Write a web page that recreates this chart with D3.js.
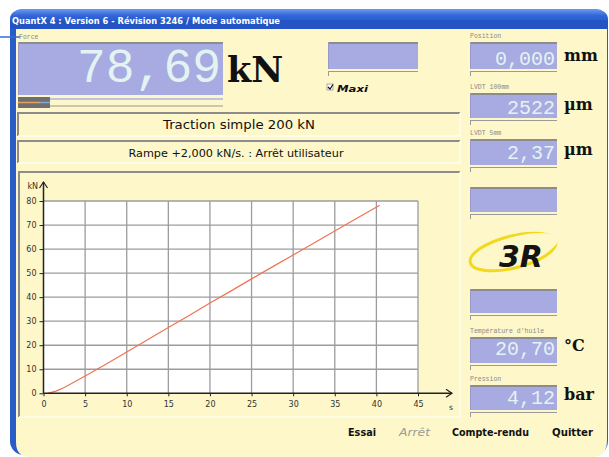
<!DOCTYPE html>
<html><head><meta charset="utf-8">
<script src="https://cdn.jsdelivr.net/npm/d3@7/dist/d3.min.js"></script>
<style>html,body{margin:0;padding:0;background:#fff;}svg{display:block;}</style>
</head><body>
<script>
// ---- data ----
const timeS  = [0.5, 1.5, 2.5, 5, 7.5, 10, 12.5, 15, 17.5, 20, 22.5, 25, 27.5, 30, 32.5, 35, 37.5, 40.4];
const forceKN = [0, 0.9, 2.4, 7.2, 12.1, 17.2, 22.3, 27.4, 32.4, 37.6, 42.5, 47.6, 52.6, 57.5, 62.5, 67.5, 72.5, 78.2];
const xTicks = [0, 5, 10, 15, 20, 25, 30, 35, 40, 45];
const yTicks = [0, 10, 20, 30, 40, 50, 60, 70, 80];
const titleText = "QuantX 4 : Version 6 - Révision 3246 / Mode automatique";
const mainLabel = "Force", mainValue = "78,69", mainUnit = "kN";
const line1 = "Traction simple 200 kN";
const line2 = "Rampe +2,000 kN/s. : Arrêt utilisateur";
const sideLabels = ["Position", "LVDT 100mm", "LVDT 5mm", "", "", "Température d'huile", "Pression"];
const sideValues = ["0,000", "2522", "2,37", "", "", "20,70", "4,12"];
const sideUnits  = ["mm", "µm", "µm", "", "", "°C", "bar"];
const buttons = ["Essai", "Arrêt", "Compte-rendu", "Quitter"];

const W = 609, H = 457;
const svg = d3.select("body").append("svg").attr("width", W).attr("height", H);
const defs = svg.append("defs");
const g1 = defs.append("linearGradient").attr("id","tb").attr("x1",0).attr("y1",0).attr("x2",0).attr("y2",1);
g1.append("stop").attr("offset","0").attr("stop-color","#6b9af0");
g1.append("stop").attr("offset","0.35").attr("stop-color","#2f63d6");
g1.append("stop").attr("offset","1").attr("stop-color","#2454c4");

const beige = "#fdf7c9", lav = "#a8aae2", valCol = "#e2f4f1", grayB = "#8c8c8c";

// window
svg.append("rect").attr("x",10).attr("y",9).attr("width",598).attr("height",446).attr("rx",14).attr("fill","#2a5cc9");
svg.append("rect").attr("x",10).attr("y",9).attr("width",598).attr("height",20).attr("rx",12).attr("fill","url(#tb)");
svg.append("rect").attr("x",10).attr("y",20).attr("width",598).attr("height",9).attr("fill","#2454c4");
svg.append("path").attr("d","M16,29 H607 V440 Q607,457 592,457 H30 Q16,457 16,442 Z").attr("fill",beige);
svg.append("line").attr("x1",0).attr("x2",20).attr("y1",37).attr("y2",37).attr("stroke","#2f6fd0").attr("stroke-width",1.5);
svg.append("text").attr("x",12).attr("y",24).attr("font-family","DejaVu Sans").attr("font-weight","bold")
  .attr("font-size",9.5).attr("fill","#fff").attr("textLength",268).attr("lengthAdjust","spacingAndGlyphs").text(titleText);

function smallLabel(x,y,t){
  svg.append("text").attr("x",x).attr("y",y).attr("font-family","Liberation Mono").attr("font-size",6.5)
    .attr("fill","#8a8a8a").text(t);
}
function display(x,y,w,h,under){
  svg.append("rect").attr("x",x).attr("y",y).attr("width",w).attr("height",h).attr("fill",lav);
  svg.append("line").attr("x1",x).attr("x2",x+w).attr("y1",y+1).attr("y2",y+1).attr("stroke",grayB).attr("stroke-width",2);
  svg.append("line").attr("x1",x+0.5).attr("x2",x+0.5).attr("y1",y).attr("y2",y+h).attr("stroke","#9a9ac8").attr("stroke-width",1);
  if(under){
    svg.append("line").attr("x1",x).attr("x2",x+w).attr("y1",y+h+2.5).attr("y2",y+h+2.5).attr("stroke","#9a9a9a").attr("stroke-width",1.2);
    svg.append("line").attr("x1",x+0.5).attr("x2",x+0.5).attr("y1",y+h+2).attr("y2",y+h+7).attr("stroke","#9a9a9a").attr("stroke-width",1);
  }
}
function inset(x,y,w,h){
  svg.append("rect").attr("x",x).attr("y",y).attr("width",w).attr("height",h).attr("fill",beige);
  svg.append("path").attr("d",`M${x},${y+h} V${y} H${x+w}`).attr("fill","none").attr("stroke",grayB).attr("stroke-width",2);
  svg.append("path").attr("d",`M${x+w},${y} V${y+h} H${x}`).attr("fill","none").attr("stroke","#fffef0").attr("stroke-width",1.5);
}

// Force display
smallLabel(19,39,mainLabel);
display(18,42,205,53,false);
svg.append("text").attr("x",221).attr("y",82).attr("text-anchor","end").attr("font-family","Liberation Mono")
  .attr("font-size",48).attr("fill",valCol).text(mainValue);
svg.append("text").attr("x",227).attr("y",82).attr("font-family","DejaVu Serif").attr("font-weight","bold")
  .attr("font-size",35).attr("fill","#111").text(mainUnit);
// progress bar
svg.append("line").attr("x1",18).attr("x2",223).attr("y1",99).attr("y2",99).attr("stroke","#a8b4e8").attr("stroke-width",1.5);
svg.append("line").attr("x1",18).attr("x2",223).attr("y1",106).attr("y2",106).attr("stroke","#9a9a9a").attr("stroke-width",1.2);
svg.append("rect").attr("x",18).attr("y",97).attr("width",32).attr("height",11).attr("fill","#6f6f6f");
svg.append("line").attr("x1",18).attr("x2",40).attr("y1",102.5).attr("y2",102.5).attr("stroke","#e8a060").attr("stroke-width",1.5);
svg.append("line").attr("x1",40).attr("x2",50).attr("y1",102.5).attr("y2",102.5).attr("stroke","#8aa0d8").attr("stroke-width",1.5);

// Maxi box
display(328,42,90,27,true);
svg.append("rect").attr("x",327).attr("y",84).attr("width",6).attr("height",6).attr("fill","#fff").attr("stroke","#777").attr("stroke-width",0.6);
svg.append("path").attr("d","M328,87 L330,89 L333,84.5").attr("fill","none").attr("stroke","#111").attr("stroke-width",1.2);
svg.append("text").attr("x",337).attr("y",92).attr("font-family","DejaVu Sans").attr("font-weight","bold").attr("font-style","italic")
  .attr("font-size",9.5).attr("fill","#111").attr("textLength",31).attr("lengthAdjust","spacingAndGlyphs").text("Maxi");

// text boxes
inset(18,113,442,23);
svg.append("text").attr("x",239).attr("y",128.5).attr("text-anchor","middle").attr("font-family","DejaVu Sans")
  .attr("font-size",13).attr("fill","#111").attr("textLength",152).attr("lengthAdjust","spacingAndGlyphs").text(line1);
inset(18,141,442,22);
svg.append("text").attr("x",236).attr("y",156.5).attr("text-anchor","middle").attr("font-family","DejaVu Sans")
  .attr("font-size",10).attr("fill","#111").attr("textLength",215).attr("lengthAdjust","spacingAndGlyphs").text(line2);

// chart panel
inset(19,172,441,245);

const x = d3.scaleLinear().domain([0,45]).range([43.5,418]);
const y = d3.scaleLinear().domain([0,80]).range([393.3,201]);
const plot = svg.append("g");
plot.append("rect").attr("x",x(0)).attr("y",y(80)).attr("width",x(45)-x(0)).attr("height",y(0)-y(80)).attr("fill","#fff");
plot.selectAll(".vg").data(xTicks.slice(1)).join("line").attr("x1",d=>x(d)).attr("x2",d=>x(d))
  .attr("y1",y(80)).attr("y2",y(0)).attr("stroke","#9c9c9c").attr("stroke-width",1.3);
plot.selectAll(".hg").data(yTicks.slice(1)).join("line").attr("x1",x(0)).attr("x2",x(45))
  .attr("y1",d=>y(d)).attr("y2",d=>y(d)).attr("stroke","#9c9c9c").attr("stroke-width",1.3);

// data line
const ln = d3.line().x((d,i)=>x(timeS[i])).y(d=>y(d));
plot.append("path").attr("d",ln(forceKN)).attr("fill","none").attr("stroke","#f07352").attr("stroke-width",1.2);

// axes
const axX = svg.append("g").attr("transform",`translate(0,${y(0)})`)
  .call(d3.axisBottom(x).tickValues(xTicks).tickSize(3).tickPadding(5).tickFormat(d3.format("d")));
axX.select(".domain").remove();
const axY = svg.append("g").attr("transform",`translate(${x(0)},0)`)
  .call(d3.axisLeft(y).tickValues(yTicks).tickSize(4).tickPadding(3).tickFormat(d3.format("d")));
axY.select(".domain").remove();
svg.selectAll(".tick text").attr("font-family","DejaVu Sans").attr("font-size",8).attr("fill","#333");
svg.selectAll(".tick line").attr("stroke","#222");
svg.append("line").attr("x1",x(0)).attr("x2",452).attr("y1",y(0)).attr("y2",y(0)).attr("stroke","#222").attr("stroke-width",1.5);
svg.append("path").attr("d",`M446,${y(0)-4} L452,${y(0)} L446,${y(0)+4}`).attr("fill","none").attr("stroke","#222").attr("stroke-width",1.2);
svg.append("line").attr("x1",x(0)).attr("x2",x(0)).attr("y1",y(0)).attr("y2",182).attr("stroke","#222").attr("stroke-width",1.5);
svg.append("path").attr("d",`M${x(0)-4},188 L${x(0)},182 L${x(0)+4},188`).attr("fill","none").attr("stroke","#222").attr("stroke-width",1.2);
svg.append("text").attr("x",38).attr("y",189).attr("text-anchor","end").attr("font-family","DejaVu Sans").attr("font-size",8).attr("fill","#333").text("kN");
svg.append("text").attr("x",449).attr("y",410).attr("font-family","DejaVu Sans").attr("font-size",7.5).attr("fill","#333").text("s");

// right column
const boxY = [42, 93, 139, 187, 289, 337, 385];
const boxH = [27, 25, 26, 25, 24, 26, 25];
const baseY = [65, 114, 159, 0, 0, 355, 404];
sideLabels.forEach((lab,i)=>{
  if(lab) smallLabel(470, boxY[i]-4, lab);
  display(470, boxY[i], 87, boxH[i], true);
  if(sideValues[i]) svg.append("text").attr("x",555).attr("y",baseY[i]).attr("text-anchor","end")
    .attr("font-family","Liberation Mono").attr("font-size",20).attr("fill",valCol).text(sideValues[i]);
  if(sideUnits[i]) svg.append("text").attr("x",564).attr("y",baseY[i]-4).attr("font-family","DejaVu Serif")
    .attr("font-weight","bold").attr("font-size",16).attr("fill","#111").text(sideUnits[i]);
});

// 3R logo
svg.append("ellipse").attr("cx",513).attr("cy",252).attr("rx",44).attr("ry",16)
  .attr("transform","rotate(-14,513,252)").attr("fill","none").attr("stroke","#f3d81c").attr("stroke-width",3);
svg.append("ellipse").attr("cx",518).attr("cy",249).attr("rx",41).attr("ry",13)
  .attr("transform","rotate(-14,518,249)").attr("fill",beige);
svg.append("text").attr("x",521).attr("y",267).attr("text-anchor","middle").attr("font-family","DejaVu Sans")
  .attr("font-weight","bold").attr("font-style","italic").attr("font-size",30).attr("fill","#141414").text("3R");

// buttons
const btnX = [348, 399, 452, 552], btnW = [28, 31, 77, 41];
buttons.forEach((b,i)=>{
  svg.append("text").attr("x",btnX[i]).attr("y",436).attr("font-family","DejaVu Sans")
    .attr("font-weight", i===1 ? "normal" : "bold").attr("font-style", i===1 ? "italic" : "normal")
    .attr("font-size",10).attr("fill", i===1 ? "#9a9a9a" : "#111")
    .attr("textLength",btnW[i]).attr("lengthAdjust","spacingAndGlyphs").text(b);
});
</script>
</body></html>
